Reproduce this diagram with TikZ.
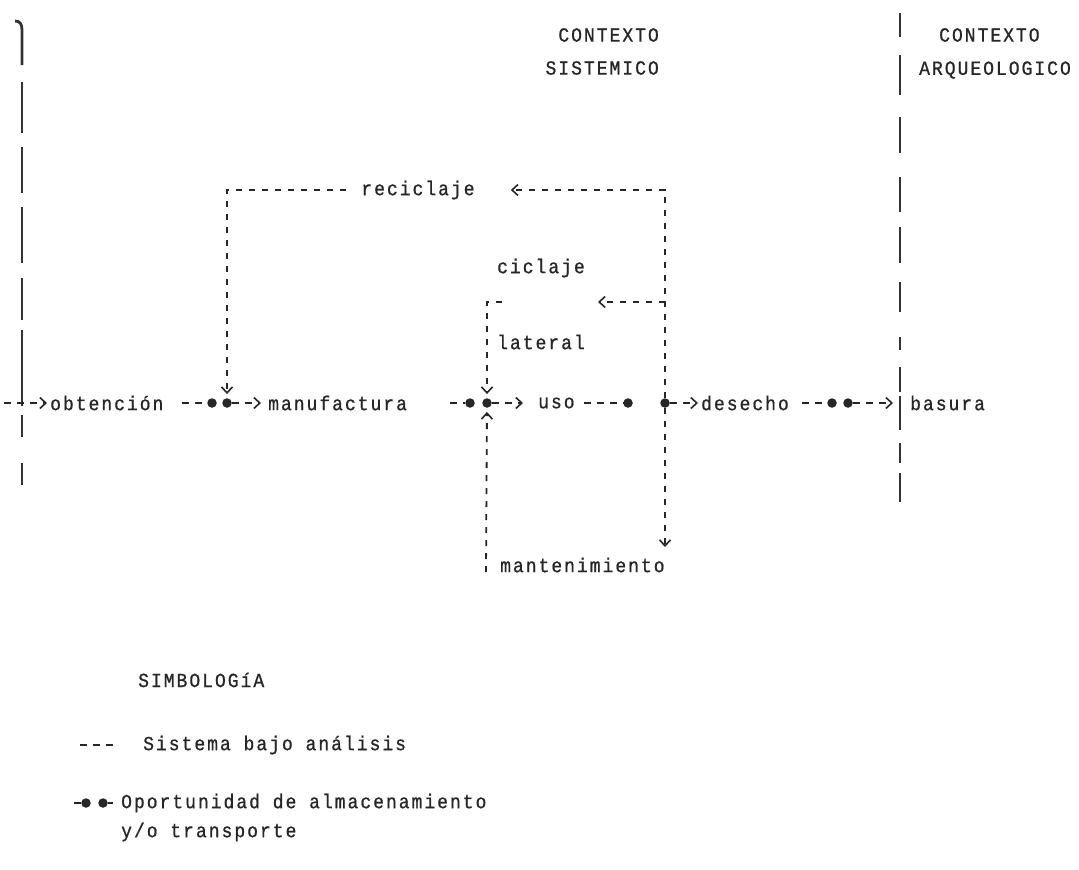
\documentclass[tikz,border=0pt]{standalone}
\usepackage{fontspec}
\setmainfont{Liberation Mono}[LetterSpace=10, FakeStretch=0.9, FakeBold=0.8]
\usetikzlibrary{arrows.meta,positioning,calc}

\tikzset{
  lbl/.style={text=black!85, inner sep=3pt, font=\fontsize{20}{24}\selectfont},
  flow/.style={black!85, line width=1.6pt, dash pattern=on 7pt off 6pt},
  loopline/.style={black!85, line width=1.8pt, dash pattern=on 6pt off 7pt},
  border/.style={black!80, line width=2.8pt},
  store/.style={circle, fill=black!85, inner sep=0pt, minimum size=9.5pt},
  tip/.style={-{Straight Barb[length=6pt,width=11pt,line width=1.6pt]}},
}

\begin{document}
\begin{tikzpicture}[x=1pt,y=-1pt]
    \useasboundingbox[fill=white] (0,0) rectangle (1079,870);

    % Headers
    \node[lbl, anchor=east] (ctxS) at (662,35) {CONTEXTO};
    \node[lbl, anchor=east] (sis) at (662,68) {SISTEMICO};
    \node[lbl, anchor=west] (ctxA) at (936,35) {CONTEXTO};
    \node[lbl, anchor=west] (arq) at (916,70) {ARQUEOLOGICO};

    % Context borders
    \draw[border] (15,21) .. controls (20,21) and (22,24) .. (22,30) -- (22,65);
    \foreach \a/\b in {82/133,147/193,207/263,278/320,330/406,415/437,463/485}
        \draw[border] (22,\a) -- (22,\b);
    \foreach \a/\b in {13/37,55/95,117/153,177/212,227/263,282/312,337/350,367/392,396/430,443/463,473/502}
        \draw[border] (900,\a) -- (900,\b);

    % Stages
    \node[lbl, anchor=west] (obt) at (47,403) {obtención};
    \node[lbl, anchor=west] (man) at (265,403) {manufactura};
    \node[lbl, anchor=west] (uso) at (535,403) {uso};
    \node[lbl, anchor=west] (des) at (698,403) {desecho};
    \node[lbl, anchor=west] (bas) at (907,403) {basura};

    % Storage points
    \node[store] (s1a) at (212,403) {};
    \node[store] (s1b) at (227,403) {};
    \node[store] (s2a) at (470,403) {};
    \node[store] (s2b) at (487,403) {};
    \node[store] (s3a) at (628,403) {};
    \node[store] (s3b) at (665,403) {};
    \node[store] (s4a) at (832,403) {};
    \node[store] (s4b) at (848,403) {};

    % Main flow
    \coordinate (entry) at (4,403);
    \draw[flow, tip] (entry) -- (obt.west);
    \draw[flow, shorten <=15pt] (obt.east) -- (s1a);
    \draw[flow, tip, shorten >=4pt] (s1b) -- (man.west);
    \draw[flow, shorten <=40pt] (man.east) -- (s2a);
    \draw[flow, tip, shorten >=12pt] (s2b) -- (uso.west);
    \draw[flow, shorten <=6pt] (uso.east) -- (s3a);
    \draw[flow, tip] (s3b) -- (des.west);
    \draw[flow, shorten <=10pt] (des.east) -- (s4a);
    \draw[flow, tip, shorten >=14pt] (s4b) -- (bas.west);

    % Reciclaje
    \coordinate (recR) at (665,190);
    \coordinate (recL) at (227,190);
    \node[lbl] (rec) at (418,190) {reciclaje};
    \draw[loopline, tip, shorten >=33pt] (s3b) -- (recR) -- (rec.east);
    \draw[loopline, tip, shorten <=12pt, shorten >=4pt] (rec.west) -- (recL) -- (s1b);

    % Ciclaje lateral
    \coordinate (latR) at (665,302);
    \coordinate (latT) at (598,302);
    \coordinate (latC) at (487,302);
    \coordinate (latS) at (502,302);
    \draw[loopline, tip] (latR) -- (latT);
    \draw[loopline, tip, shorten >=4pt] (latS) -- (latC) -- (s2b);
    \node[lbl] (cic) at (541,268) {ciclaje};
    \node[lbl] (lat) at (541,342) {lateral};

    % Mantenimiento
    \node[lbl, anchor=west] (mnt) at (497,565) {mantenimiento};
    \coordinate (mntR) at (665,547);
    \coordinate (mntL) at (486,572);
    \draw[loopline, tip] (s3b) -- (mntR);
    \draw[loopline, tip, shorten >=4pt] (mntL) -- (s2b);

    % Legend
    \node[lbl, anchor=west] (simb) at (135,680) {SIMBOLOGíA};
    \coordinate (ka) at (80,745);
    \coordinate (kb) at (113,745);
    \draw[flow] (ka) -- (kb);
    \node[lbl, anchor=west] (key1) at (140,745) {Sistema bajo análisis};
    \node[store] (kd1) at (86,803) {};
    \node[store] (kd2) at (103,803) {};
    \coordinate (kc) at (74,803);
    \coordinate (ke) at (113,803);
    \draw[flow] (kc) -- (kd1);
    \draw[flow] (kd2) -- (ke);
    \node[lbl, anchor=west] (key2) at (118,803) {Oportunidad de almacenamiento};
    \node[lbl, anchor=west] (key3) at (118,832) {y/o transporte};
\end{tikzpicture}
\end{document}
